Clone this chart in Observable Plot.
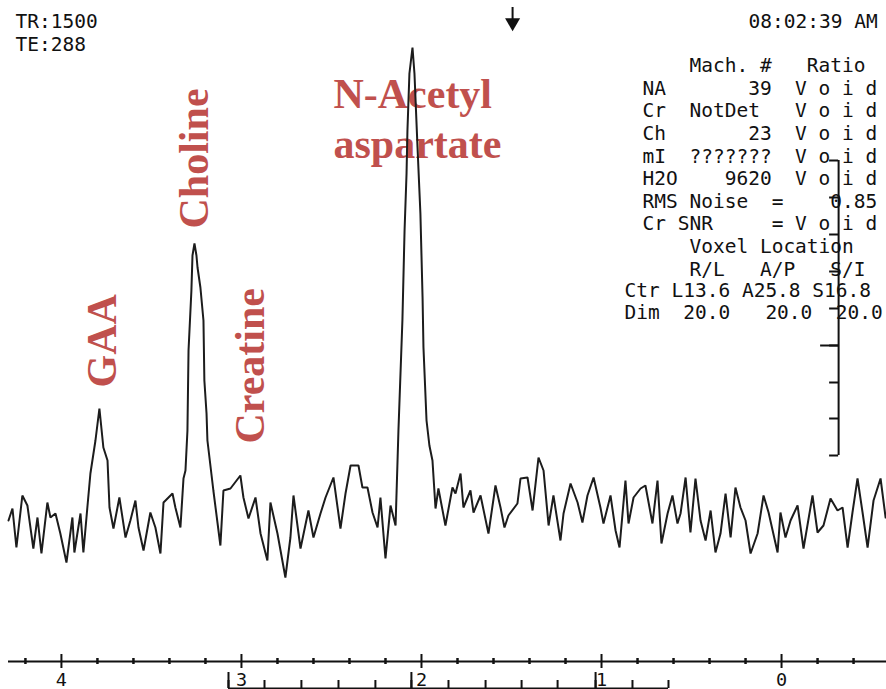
<!DOCTYPE html>
<html>
<head>
<meta charset="utf-8">
<script src="https://cdn.jsdelivr.net/npm/d3@7"></script>
<script src="https://cdn.jsdelivr.net/npm/@observablehq/plot@0.6"></script>
<style>
  html, body { margin: 0; padding: 0; background: #fff; }
</style>
</head>
<body>
<script>
// ---------- data ----------
const headerLeft = ["TR:1500", "TE:288"];
const timeStamp = "08:02:39 AM";
const panelRows = [
  "    Mach. #   Ratio",
  "NA       39  V o i d",
  "Cr  NotDet   V o i d",
  "Ch       23  V o i d",
  "mI  ???????  V o i d",
  "H2O    9620  V o i d",
  "RMS Noise  =    0.85",
  "Cr SNR     = V o i d",
  "    Voxel Location",
  "    R/L   A/P   S/I"
];
const voxelRows = [
  "Ctr L13.6 A25.8 S16.8",
  "Dim  20.0   20.0  20.0"
];

// chemical shift axis (ppm)
const xDomain = [4.294, -0.583];
const majorTicks = [4, 3, 2, 1, 0];
const minorTicks = [4.2, 3.8, 3.6, 3.4, 3.2, 2.8, 2.6, 2.4, 2.2, 1.8, 1.6, 1.4, 1.2, 0.8, 0.6, 0.4, 0.2, -0.2, -0.4];

// second (lower) ppm ruler, positions on the main ppm scale
const lowerRulerTicks = [3.072, 2.872, 2.667, 2.461, 2.256, 2.056, 1.850, 1.644, 1.444, 1.244, 1.033, 0.828, 0.628];
const lowerRulerLongTicks = [3.072, 2.056, 1.033];

// intensity (arbitrary units, 0 = baseline)
const yDomain = [-141, 520];
const ampRulerPpm = -0.317;
const ampRulerTicks = [360, 323, 286, 249, 212, 175, 138, 102, 65];
const ampRulerLongTick = [175];

// marker arrow at the top
const arrowPpm = [1.494];

// metabolite labels
const peakNames = ["GAA", "Choline", "Creatine"];
const peakPpm = [3.774, 3.258, 2.952];
const peakLabelHeight = [133, 292, 77];
const naaName = "N-Acetyl\naspartate";
const naaPpm = 2.489;
const naaLabelHeight = 363;

// spectrum: [ppm, intensity]
const spectrum = [
  [4.294, 0], [4.272, 12], [4.250, -27], [4.217, 25], [4.189, 15], [4.156, -28], [4.133, 3], [4.111, -33],
  [4.078, 18], [4.061, 3], [4.033, 7], [4.006, -13], [3.972, -42], [3.939, 3], [3.928, -32], [3.894, 7],
  [3.878, -32], [3.856, 13], [3.839, 47], [3.811, 80], [3.789, 112], [3.767, 73], [3.744, 60], [3.733, 13],
  [3.711, -8], [3.678, 23], [3.644, -17], [3.617, 0], [3.589, 20], [3.572, -7], [3.544, -30], [3.506, 8],
  [3.478, -7], [3.450, -33], [3.433, 18], [3.383, 27], [3.367, 13], [3.339, -7], [3.322, 42], [3.311, 50],
  [3.300, 90], [3.294, 170], [3.278, 230], [3.272, 265], [3.261, 277], [3.250, 265], [3.244, 253], [3.228, 233],
  [3.211, 200], [3.206, 140], [3.194, 107], [3.189, 80], [3.156, 30], [3.117, -25], [3.100, 30], [3.061, 32],
  [3.006, 45], [2.989, 23], [2.961, 2], [2.922, 23], [2.894, -13], [2.856, -40], [2.839, 18], [2.800, -13],
  [2.756, -57], [2.728, -17], [2.711, 25], [2.672, -28], [2.628, 10], [2.600, -17], [2.561, 7], [2.533, 23],
  [2.489, 43], [2.450, -8], [2.422, 27], [2.394, 55], [2.350, 55], [2.328, 33], [2.300, 33], [2.272, 8],
  [2.244, -7], [2.228, 23], [2.200, -38], [2.172, 15], [2.144, -5], [2.133, 60], [2.128, 90], [2.106, 200],
  [2.094, 290], [2.083, 347], [2.078, 390], [2.067, 447], [2.050, 473], [2.039, 447], [2.022, 373], [2.006, 307],
  [1.994, 223], [1.989, 173], [1.972, 100], [1.956, 75], [1.939, 60], [1.922, 12], [1.906, 32], [1.867, -5],
  [1.828, 33], [1.811, 27], [1.783, 47], [1.767, 13], [1.728, 30], [1.711, 8], [1.672, 25], [1.628, -13],
  [1.589, 35], [1.561, 13], [1.539, -7], [1.517, 5], [1.467, 17], [1.450, 42], [1.411, 43], [1.383, 10],
  [1.350, 63], [1.322, 50], [1.294, -5], [1.267, 25], [1.228, -20], [1.211, 7], [1.172, 37], [1.133, 18],
  [1.106, -2], [1.078, 25], [1.044, 43], [1.006, 13], [0.989, -3], [0.950, 25], [0.922, -10], [0.900, -27],
  [0.867, 40], [0.850, -3], [0.822, 23], [0.783, 32], [0.756, 35], [0.717, -3], [0.689, 40], [0.667, -23],
  [0.633, 7], [0.606, 25], [0.578, -3], [0.561, 7], [0.533, 43], [0.506, -12], [0.478, 42], [0.450, 0],
  [0.422, -20], [0.394, 10], [0.367, -32], [0.339, -13], [0.311, 27], [0.283, -17], [0.256, 33], [0.228, 13],
  [0.200, 0], [0.172, -33], [0.133, -13], [0.100, 25], [0.072, 8], [0.022, -32], [0.006, 8], [-0.022, -17],
  [-0.050, 0], [-0.089, 15], [-0.122, -28], [-0.172, 25], [-0.200, -12], [-0.233, -5], [-0.272, 22], [-0.311, 10],
  [-0.339, 13], [-0.367, -27], [-0.394, 8], [-0.422, 42], [-0.450, 8], [-0.478, -27], [-0.511, 20], [-0.550, 42],
  [-0.578, 3]
];

// ---------- styles ----------
const ink = "#111";
const red = "#c0504d";
const mono = "DejaVu Sans Mono";
const serif = "'Liberation Serif', 'Times New Roman', serif";
const monoSize = 19.5;
const nb = s => s.replace(/ /g, "\u00a0");

const chart = Plot.plot({
  width: 886,
  height: 689,
  marginLeft: 8,
  marginRight: 0,
  marginTop: 0,
  marginBottom: 28,
  style: {background: "#fff", color: ink, overflow: "visible"},
  x: {domain: xDomain},
  y: {domain: yDomain, axis: null},
  marks: [
    // main ppm axis
    Plot.ruleY([yDomain[0]], {stroke: ink, strokeWidth: 2}),
    Plot.axisX(minorTicks, {anchor: "bottom", tickSize: 6, dy: -3, tickFormat: () => "", label: null, strokeWidth: 2.5, stroke: ink}),
    Plot.axisX(majorTicks, {anchor: "bottom", tickSize: 14, dy: -7, tickPadding: 4, tickFormat: d => String(d),
      label: null, strokeWidth: 2, stroke: ink, fill: ink, fontSize: 18.5, fontFamily: mono}),

    // lower ppm ruler
    Plot.ruleY([yDomain[0]], {x1: lowerRulerTicks[0], x2: lowerRulerTicks[lowerRulerTicks.length - 1], dy: 27, stroke: ink, strokeWidth: 2}),
    Plot.ruleX(lowerRulerTicks, {x: d => d, y1: yDomain[0], y2: yDomain[0], dy: 27, insetTop: -8, stroke: ink, strokeWidth: 2}),
    Plot.ruleX(lowerRulerLongTicks, {x: d => d, y1: yDomain[0], y2: yDomain[0], dy: 27, insetTop: -16, stroke: ink, strokeWidth: 2}),

    // amplitude ruler on the right
    Plot.ruleX([ampRulerPpm], {x: d => d, y1: ampRulerTicks[0], y2: ampRulerTicks[ampRulerTicks.length - 1], stroke: ink, strokeWidth: 2}),
    Plot.ruleY(ampRulerTicks, {y: d => d, x1: ampRulerPpm, x2: ampRulerPpm, insetLeft: -9, stroke: ink, strokeWidth: 2}),
    Plot.ruleY(ampRulerLongTick, {y: d => d, x1: ampRulerPpm, x2: ampRulerPpm, insetLeft: -18, stroke: ink, strokeWidth: 2}),

    // metabolite labels
    Plot.text(peakNames, {x: (d, i) => peakPpm[i], y: (d, i) => peakLabelHeight[i], text: d => d, rotate: -90,
      textAnchor: "start", fontSize: 42, fontWeight: "bold", fontFamily: serif, fill: red}),
    Plot.text([naaName], {x: naaPpm, y: naaLabelHeight, text: d => d, textAnchor: "start", lineAnchor: "bottom",
      lineHeight: 1.17, fontSize: 42, fontWeight: "bold", fontFamily: serif, fill: red}),

    // the spectrum
    Plot.line(spectrum, {x: d => d[0], y: d => d[1], stroke: "#1c1c1c", strokeWidth: 2, strokeLinejoin: "miter"}),

    // header text
    Plot.text([headerLeft.join("\n")], {frameAnchor: "top-left", dx: 7, dy: 50, lineAnchor: "bottom", lineHeight: 1.18,
      textAnchor: "start", fontSize: monoSize, fontFamily: mono, fill: ink}),
    Plot.text([timeStamp], {frameAnchor: "top-left", dx: 740, dy: 27, lineAnchor: "bottom",
      textAnchor: "start", fontSize: monoSize, fontFamily: mono, fill: ink}),
    Plot.text([panelRows.map(nb).join("\n")], {frameAnchor: "top-left", dx: 634, dy: 275, lineAnchor: "bottom", lineHeight: 1.159,
      textAnchor: "start", fontSize: monoSize, fontFamily: mono, fill: ink}),
    Plot.text([voxelRows.map(nb).join("\n")], {frameAnchor: "top-left", dx: 616, dy: 318, lineAnchor: "bottom", lineHeight: 1.08,
      textAnchor: "start", fontSize: monoSize, fontFamily: mono, fill: ink}),

    // marker arrow
    Plot.ruleX(arrowPpm, {x: d => d, y1: yDomain[1], y2: yDomain[1], insetTop: 7, insetBottom: -20, stroke: ink, strokeWidth: 2}),
    Plot.dot(arrowPpm, {x: d => d, frameAnchor: "top", dy: 22, symbol: "triangle", rotate: 180, r: 5.6, fill: ink, stroke: null})
  ]
});

document.body.appendChild(chart);
</script>
</body>
</html>
